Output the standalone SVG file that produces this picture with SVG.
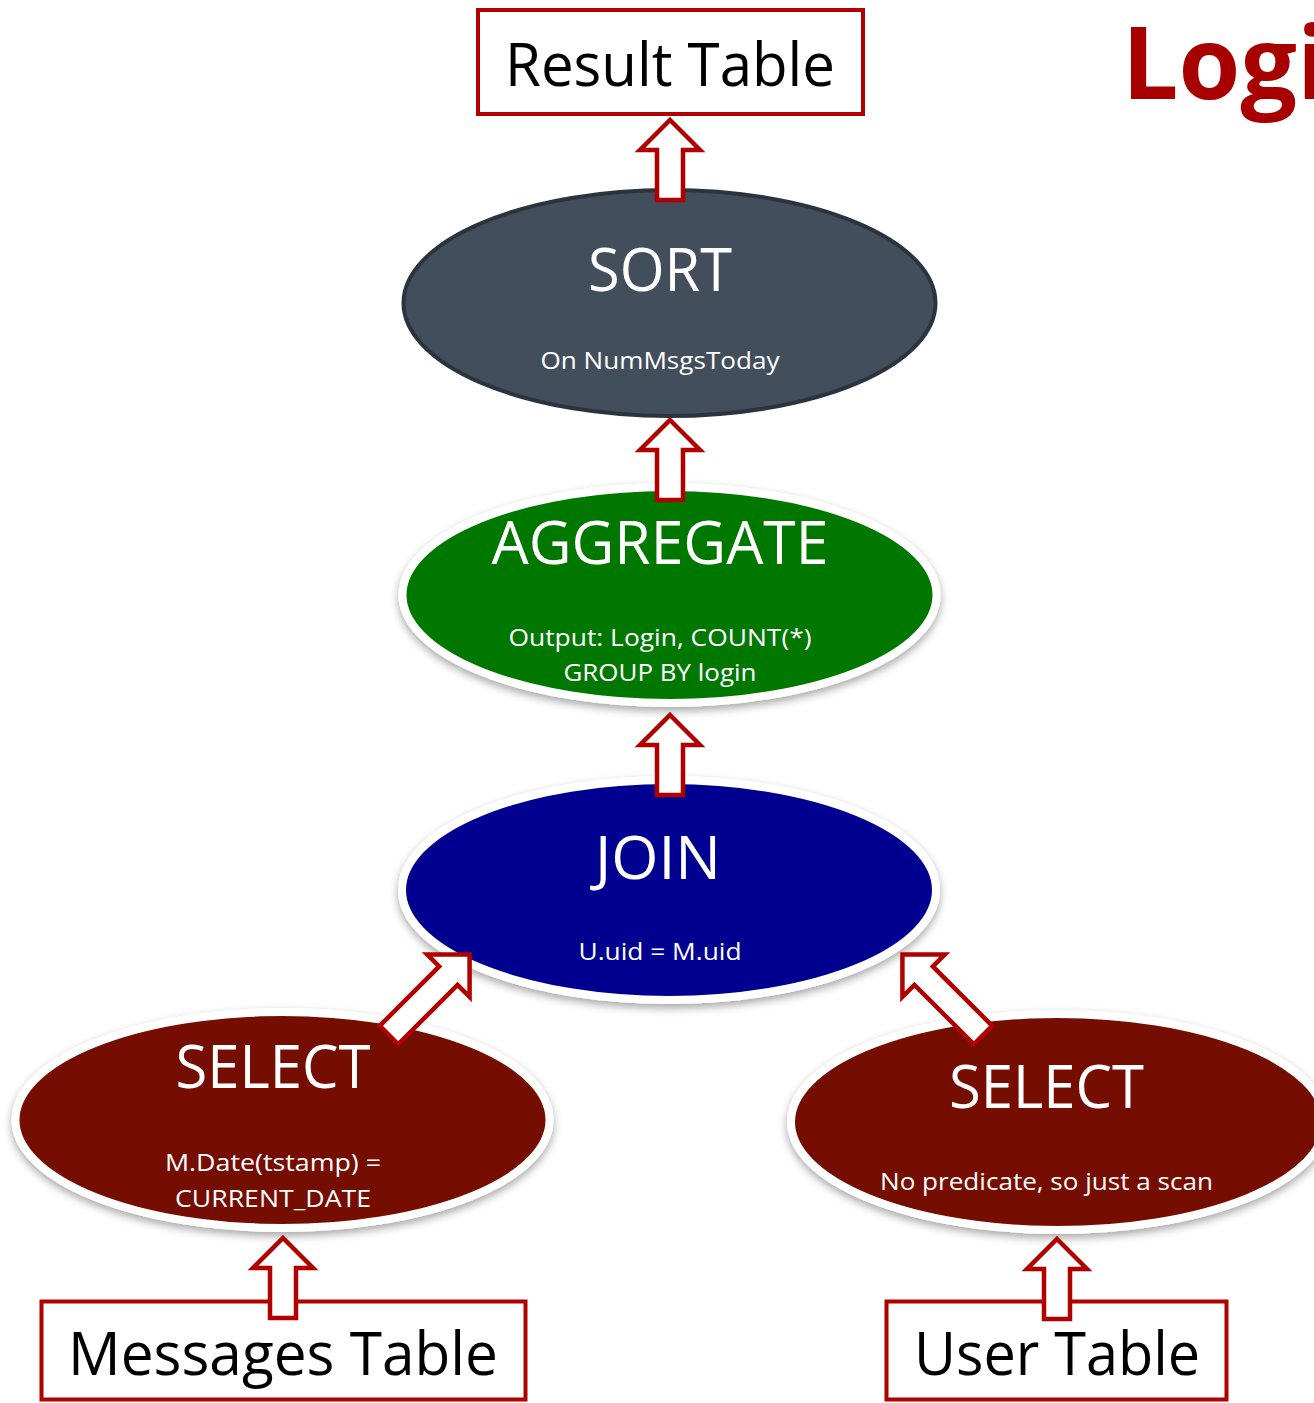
<svg xmlns="http://www.w3.org/2000/svg" width="1314" height="1403" viewBox="0 0 1314 1403">
  <style>
    .box { fill: #ffffff; stroke: #b00000; stroke-width: 4; }
    .boxtxt { font-family: "Open Sans", "Liberation Sans", sans-serif; font-size: 60px; fill: #000000; text-anchor: middle; }
    .op { stroke: #ffffff; stroke-width: 8; filter: url(#shadow); }
    .title { font-family: "Open Sans", "Liberation Sans", sans-serif; font-size: 60px; fill: #ffffff; text-anchor: middle; }
    .sub { font-family: "Open Sans", "Liberation Sans", sans-serif; font-size: 24px; fill: #ffffff; text-anchor: middle; }
    .flow { fill: #ffffff; stroke: #b00000; stroke-width: 4.5; stroke-linejoin: miter; }
    .heading { font-family: "Open Sans", "Liberation Sans", sans-serif; font-weight: bold; font-size: 100px; fill: #a80000; }
  </style>
  <defs>
    <filter id="shadow" x="-10%" y="-15%" width="120%" height="135%">
      <feDropShadow dx="0" dy="4" stdDeviation="4" flood-color="#000000" flood-opacity="0.35"/>
    </filter>
    <!-- block arrow pointing up, tip at origin -->
    <path id="up84" d="M0,2 L30,32 L13,32 L13,82 L-13,82 L-13,32 L-30,32 Z"/>
    <path id="up118" d="M0,2 L30,32 L13,32 L13,116 L-13,116 L-13,32 L-30,32 Z"/>
  </defs>

  <rect width="1314" height="1403" fill="#ffffff"/>

  <text class="heading" x="1122" y="99">Logi</text>

  <g id="sort">
    <ellipse cx="669.5" cy="303" rx="266" ry="113" fill="#434e5c" stroke="#2b333d" stroke-width="4"/>
    <text class="title" x="660" y="291" textLength="144" lengthAdjust="spacingAndGlyphs">SORT</text>
    <text class="sub" x="660" y="369" textLength="239" lengthAdjust="spacingAndGlyphs">On NumMsgsToday</text>
  </g>

  <g id="aggregate">
    <ellipse class="op" cx="669.5" cy="595" rx="267" ry="108" fill="#007800"/>
    <text class="title" x="660" y="564" textLength="337" lengthAdjust="spacingAndGlyphs">AGGREGATE</text>
    <text class="sub" x="660" y="646" textLength="303" lengthAdjust="spacingAndGlyphs">Output: Login, COUNT(*)</text>
    <text class="sub" x="660" y="681" textLength="193" lengthAdjust="spacingAndGlyphs">GROUP BY login</text>
  </g>

  <g id="join">
    <ellipse class="op" cx="669" cy="890" rx="267" ry="110" fill="#000090"/>
    <text class="title" x="658" y="879" textLength="126" lengthAdjust="spacingAndGlyphs">JOIN</text>
    <text class="sub" x="660" y="960" textLength="163" lengthAdjust="spacingAndGlyphs">U.uid = M.uid</text>
  </g>

  <g id="select-messages">
    <ellipse class="op" cx="282.5" cy="1120" rx="267" ry="108" fill="#751000"/>
    <text class="title" x="273" y="1088" textLength="195" lengthAdjust="spacingAndGlyphs">SELECT</text>
    <text class="sub" x="273" y="1171" textLength="216" lengthAdjust="spacingAndGlyphs">M.Date(tstamp) =</text>
    <text class="sub" x="273" y="1207" textLength="196" lengthAdjust="spacingAndGlyphs">CURRENT_DATE</text>
  </g>

  <g id="select-users">
    <ellipse class="op" cx="1058" cy="1122" rx="267" ry="108" fill="#751000"/>
    <text class="title" x="1046.5" y="1108" textLength="195" lengthAdjust="spacingAndGlyphs">SELECT</text>
    <text class="sub" x="1046.5" y="1190" textLength="333" lengthAdjust="spacingAndGlyphs">No predicate, so just a scan</text>
  </g>

  <g id="result-table">
    <rect class="box" x="478" y="10" width="385" height="104"/>
    <text class="boxtxt" x="670" y="86" textLength="330" lengthAdjust="spacingAndGlyphs">Result Table</text>
  </g>

  <g id="messages-table">
    <rect class="box" x="41.5" y="1301.5" width="484" height="98"/>
    <text class="boxtxt" x="283" y="1375" textLength="430" lengthAdjust="spacingAndGlyphs">Messages Table</text>
  </g>

  <g id="user-table">
    <rect class="box" x="886.5" y="1301.5" width="340" height="98"/>
    <text class="boxtxt" x="1057" y="1375" textLength="286" lengthAdjust="spacingAndGlyphs">User Table</text>
  </g>

  <g id="connectors">
    <use href="#up84" class="flow" transform="translate(670,118)"/>
    <use href="#up84" class="flow" transform="translate(670,418)"/>
    <use href="#up84" class="flow" transform="translate(670,713)"/>
    <use href="#up118" class="flow" transform="translate(471,953) rotate(45)"/>
    <use href="#up118" class="flow" transform="translate(901,953) rotate(-45)"/>
    <use href="#up84" class="flow" transform="translate(283,1236)"/>
    <use href="#up84" class="flow" transform="translate(1057,1237)"/>
  </g>
</svg>
